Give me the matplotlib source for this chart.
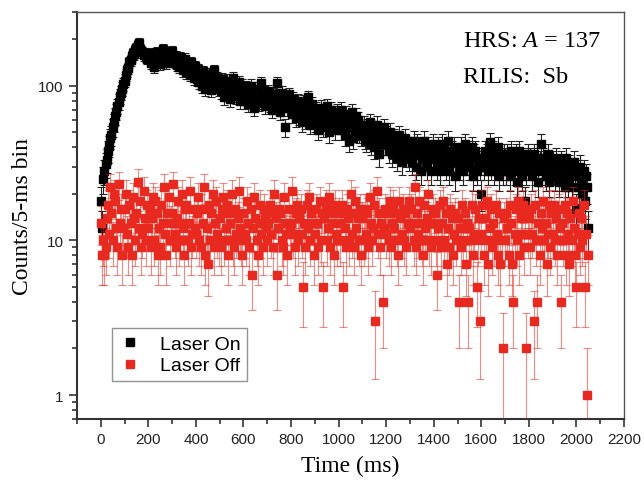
import numpy as np
import matplotlib
matplotlib.use('Agg')
import matplotlib.pyplot as plt
from matplotlib.ticker import LogLocator, FixedLocator, FixedFormatter, MultipleLocator, NullFormatter

plt.rcParams['mathtext.fontset'] = 'custom'
plt.rcParams['mathtext.rm'] = 'Liberation Serif'
plt.rcParams['mathtext.it'] = 'Liberation Serif:italic'

# counts per 5-ms bin (bins start at 0 ms)
bin_width = 5
laser_on = [
    18, 12, 25, 28, 31, 33, 38, 41, 46, 48, 54, 58, 64, 68, 74, 79, 86, 90, 96, 102,
    108, 118, 126, 130, 142, 146, 155, 162, 160, 170, 175, 183, 190, 174, 168, 165, 158, 162, 156, 150,
    150, 162, 140, 146, 158, 132, 152, 166, 160, 144, 138, 150, 172, 162, 148, 140, 156, 166, 144, 158,
    168, 150, 142, 156, 136, 148, 132, 154, 140, 126, 144, 150, 122, 130, 138, 118, 142, 128, 112, 134,
    122, 110, 128, 106, 114, 100, 124, 118, 96, 112, 104, 120, 108, 94, 116, 126, 100, 106, 112, 96,
    104, 92, 110, 98, 84, 100, 108, 90, 96, 82, 102, 112, 88, 94, 86, 98, 106, 80, 92, 100,
    90, 80, 98, 86, 76, 94, 100, 84, 88, 72, 92, 82, 96, 78, 86, 104, 80, 90, 74, 88,
    84, 92, 76, 80, 70, 88, 82, 74, 104, 86, 78, 68, 90, 80, 76, 54, 84, 72, 88, 78,
    76, 66, 82, 70, 62, 74, 80, 64, 70, 58, 78, 72, 60, 68, 84, 66, 56, 72, 76, 64,
    58, 70, 64, 52, 66, 72, 60, 54, 68, 62, 74, 56, 50, 64, 70, 58, 66, 52, 62, 68,
    64, 56, 70, 52, 60, 48, 66, 58, 54, 44, 62, 68, 46, 58, 52, 64, 60, 50, 56, 48,
    52, 56, 46, 44, 54, 48, 58, 42, 50, 46, 40, 52, 56, 44, 36, 50, 46, 42, 54, 48,
    48, 42, 38, 50, 44, 36, 40, 46, 38, 34, 44, 48, 40, 32, 42, 38, 46, 36, 40, 34,
    36, 40, 32, 44, 38, 30, 42, 36, 40, 28, 34, 38, 44, 36, 30, 40, 34, 38, 28, 42,
    34, 38, 36, 30, 40, 28, 32, 42, 34, 38, 30, 36, 44, 28, 34, 38, 32, 40, 26, 36,
    36, 32, 30, 40, 34, 28, 42, 36, 32, 38, 30, 34, 40, 26, 36, 38, 28, 34, 32, 30,
    20, 34, 30, 38, 32, 36, 28, 43, 30, 34, 38, 28, 36, 32, 40, 26, 34, 30, 28, 36,
    34, 28, 36, 30, 26, 38, 32, 30, 28, 36, 24, 32, 38, 30, 26, 34, 30, 18, 28, 36,
    30, 34, 32, 26, 36, 28, 30, 34, 24, 32, 42, 28, 34, 30, 26, 32, 36, 24, 30, 28,
    32, 28, 26, 34, 30, 24, 28, 32, 26, 30, 22, 34, 28, 24, 30, 26, 22, 28, 32, 26,
    16, 28, 22, 30, 24, 20, 28, 18, 26, 22, 12,
]
laser_off = [
    13, 8, 10, 8, 9, 14, 17, 11, 22, 15, 10, 20, 18, 12, 9, 23, 13, 16, 8, 12,
    16, 20, 11, 9, 17, 13, 8, 19, 14, 10, 15, 24, 12, 18, 9, 11, 21, 14, 10, 17,
    12, 16, 9, 14, 19, 10, 18, 15, 8, 12, 9, 17, 13, 22, 11, 8, 15, 19, 10, 13,
    15, 23, 11, 9, 14, 18, 10, 13, 20, 12, 8, 16, 17, 10, 13, 21, 9, 11, 16, 12,
    11, 15, 19, 10, 9, 16, 13, 22, 8, 12, 7, 17, 10, 15, 20, 9, 13, 18, 11, 10,
    14, 9, 16, 19, 10, 12, 17, 8, 15, 13, 20, 10, 9, 16, 11, 14, 21, 12, 10, 8,
    15, 11, 10, 18, 13, 9, 16, 6, 12, 19, 14, 10, 8, 13, 17, 11, 9, 16, 14, 12,
    10, 13, 17, 11, 15, 9, 20, 14, 6, 12, 16, 15, 10, 9, 19, 13, 11, 8, 16, 12,
    13, 21, 11, 9, 15, 17, 10, 14, 16, 11, 5, 13, 9, 17, 12, 19, 10, 15, 13, 8,
    11, 16, 13, 9, 18, 10, 15, 5, 14, 17, 10, 12, 19, 9, 15, 13, 8, 17, 11, 10,
    15, 10, 13, 17, 5, 12, 9, 16, 14, 10, 20, 11, 15, 9, 18, 12, 14, 10, 16, 8,
    14, 10, 16, 11, 15, 9, 19, 13, 10, 12, 17, 3, 21, 11, 15, 9, 13, 4, 12, 16,
    11, 15, 10, 18, 9, 13, 17, 12, 15, 10, 8, 18, 14, 11, 16, 10, 15, 9, 13, 18,
    12, 16, 13, 10, 22, 9, 15, 11, 18, 13, 10, 8, 17, 12, 14, 20, 10, 13, 9, 16,
    13, 15, 10, 6, 12, 17, 9, 13, 18, 10, 15, 7, 12, 9, 16, 14, 8, 11, 15, 10,
    14, 4, 12, 9, 17, 10, 15, 7, 13, 4, 12, 10, 17, 8, 11, 16, 5, 10, 14, 3,
    11, 17, 8, 14, 10, 18, 7, 12, 16, 9, 13, 10, 17, 11, 8, 15, 7, 10, 2, 14,
    10, 15, 12, 8, 17, 13, 7, 4, 11, 16, 10, 18, 8, 14, 11, 17, 9, 15, 2, 11,
    14, 9, 16, 11, 3, 17, 10, 4, 13, 8, 15, 12, 18, 10, 13, 7, 11, 17, 9, 15,
    11, 17, 10, 14, 8, 16, 12, 4, 13, 10, 17, 8, 15, 11, 7, 14, 10, 18, 12, 8,
    5, 11, 15, 9, 14, 10, 17, 5, 11, 1, 8,
]

on = np.array(laser_on, dtype=float)
off = np.array(laser_off, dtype=float)
t_on = np.arange(len(on)) * bin_width
t_off = np.arange(len(off)) * bin_width

red = '#e8291f'

fig = plt.figure(figsize=(6.44, 4.85), dpi=100)
ax = fig.add_axes([77 / 644, 65 / 485, 547 / 644, 407 / 485])

eb_on = ax.errorbar(t_on, on, yerr=np.sqrt(on), fmt='s', ms=6.3, mfc='black', mec='black',
                    ecolor='#222222', elinewidth=0.8, capsize=3, capthick=0.8, zorder=2)
eb_off = ax.errorbar(t_off, off, yerr=np.sqrt(off), fmt='s', ms=6.3, mfc=red, mec=red,
                     ecolor=(0.91, 0.16, 0.12, 0.55), elinewidth=0.8, capsize=3, capthick=0.8,
                     zorder=3)

ax.set_yscale('log')
ax.set_xlim(-100, 2200)
ax.set_ylim(0.7, 300)

ax.xaxis.set_major_locator(MultipleLocator(200))
ax.xaxis.set_minor_locator(MultipleLocator(100))
ax.yaxis.set_major_locator(FixedLocator([1, 10, 100]))
ax.yaxis.set_major_formatter(FixedFormatter(['1', '10', '100']))
ax.yaxis.set_minor_locator(LogLocator(base=10, subs=np.arange(2, 10)))
ax.yaxis.set_minor_formatter(NullFormatter())

ax.tick_params(which='both', direction='out', top=False, right=False, color='#333333', width=1.2,
               labelsize=11, labelcolor='#222222')
ax.tick_params(which='major', length=6)
ax.tick_params(which='minor', length=3.5)
for lab in ax.get_xticklabels() + ax.get_yticklabels():
    lab.set_fontfamily('Liberation Sans')

for s in ['left', 'bottom']:
    ax.spines[s].set_linewidth(1.5)
    ax.spines[s].set_color('#333333')
for s in ['top', 'right']:
    ax.spines[s].set_linewidth(1.0)
    ax.spines[s].set_color('#555555')

ax.set_xlabel('Time (ms)', fontsize=17, fontfamily='Liberation Serif', labelpad=6)
ax.set_ylabel('Counts/5-ms bin', fontsize=17, fontfamily='Liberation Serif', labelpad=4)

ax.text(0.706, 0.9165, 'HRS: $\\mathit{A}$ = 137', transform=ax.transAxes, fontsize=17.5,
        fontfamily='Liberation Serif', va='baseline', ha='left')
ax.text(0.706, 0.828, 'RILIS:  Sb', transform=ax.transAxes, fontsize=17.5,
        fontfamily='Liberation Serif', va='baseline', ha='left')

# legend shows only the square markers, no error bars
leg = ax.legend([eb_on[0], eb_off[0]], ['Laser On', 'Laser Off'],
                loc='lower left', bbox_to_anchor=(0.064, 0.093), borderaxespad=0,
                prop={'family': 'Liberation Sans', 'size': 14}, frameon=True, fancybox=False,
                handletextpad=0.9, borderpad=0.35, labelspacing=0.2, handlelength=1.2,
                markerscale=0.85)
leg.get_frame().set_edgecolor('#777777')
leg.get_frame().set_linewidth(1.0)

fig.savefig('out.png', dpi=100)
